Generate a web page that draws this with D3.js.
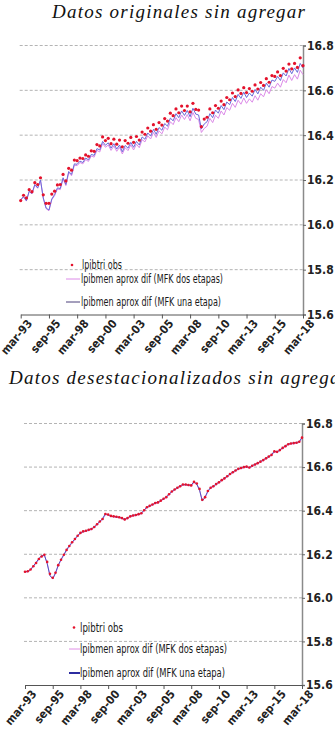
<!DOCTYPE html>
<html>
<head>
<meta charset="utf-8">
<script src="https://cdn.jsdelivr.net/npm/d3@7"></script>
<style>
  body { margin: 0; background: #fff; }
  svg { display: block; }
  .title { font-family: "Liberation Serif", serif; font-style: italic; font-size: 19px; fill: #111; }
  .tick-lbl { font-family: "Liberation Sans Narrow", "DejaVu Sans Condensed", sans-serif; font-weight: bold; font-size: 11.5px; fill: #222; }
  .legend text { font-family: "Liberation Sans Narrow", "DejaVu Sans Condensed", sans-serif; font-size: 12px; fill: #1a1a1a; }
</style>
</head>
<body>
<svg id="chart" width="335" height="739"></svg>
<script>
// ---- data (quarterly, mar-93 .. mar-18) ----
const xTickLabels = ['mar-93','sep-95','mar-98','sep-00','mar-03','sep-05','mar-08','sep-10','mar-13','sep-15','mar-18'];
const yTicks = [15.6, 15.8, 16.0, 16.2, 16.4, 16.6, 16.8];
const titles = ['Datos originales sin agregar', 'Datos desestacionalizados sin agregar'];
const legendLabels = ['lpibtri obs', 'lpibmen aprox dif (MFK dos etapas)', 'lpibmen aprox dif (MFK una etapa)'];

// original data
const obsOrig = [
  16.108,16.132,16.120,16.157, 16.148,16.188,16.180,16.210, 16.134,16.096,16.096,16.137,
  16.150,16.178,16.180,16.225, 16.196,16.252,16.244,16.289, 16.286,16.298,16.296,16.312,
  16.306,16.330,16.328,16.358, 16.352,16.392,16.376,16.386, 16.362,16.382,16.360,16.378,
  16.348,16.376,16.364,16.390, 16.368,16.394,16.378,16.414, 16.404,16.432,16.418,16.447,
  16.426,16.456,16.445,16.474, 16.463,16.498,16.487,16.517, 16.500,16.530,16.510,16.530,
  16.504,16.542,16.515,16.512, 16.438,16.472,16.480,16.517, 16.500,16.532,16.520,16.552,
  16.536,16.568,16.558,16.588, 16.572,16.602,16.586,16.612, 16.590,16.608,16.596,16.624,
  16.606,16.635,16.622,16.652, 16.636,16.666,16.662,16.682, 16.666,16.698,16.686,16.717,
  16.696,16.720,16.702,16.745, 16.710
];
const dosOrig = [
  16.110,16.124,16.106,16.148, 16.138,16.178,16.163,16.198, 16.118,16.072,16.063,16.112,
  16.130,16.160,16.157,16.205, 16.175,16.232,16.219,16.266, 16.264,16.278,16.272,16.291,
  16.283,16.307,16.302,16.332, 16.325,16.363,16.346,16.356, 16.332,16.352,16.328,16.346,
  16.316,16.344,16.331,16.357, 16.334,16.360,16.344,16.380, 16.370,16.397,16.383,16.412,
  16.390,16.419,16.406,16.436, 16.424,16.460,16.447,16.478, 16.460,16.490,16.470,16.492,
  16.464,16.501,16.475,16.470, 16.412,16.430,16.440,16.475, 16.456,16.489,16.475,16.508,
  16.490,16.523,16.511,16.542, 16.524,16.556,16.538,16.566, 16.542,16.562,16.547,16.576,
  16.556,16.585,16.571,16.603, 16.585,16.617,16.610,16.632, 16.614,16.648,16.634,16.668,
  16.644,16.670,16.650,16.690, 16.670
];
const unaOrig = [
  16.112,16.126,16.108,16.150, 16.140,16.180,16.165,16.200, 16.120,16.075,16.066,16.115,
  16.135,16.165,16.162,16.210, 16.180,16.238,16.225,16.272, 16.270,16.284,16.278,16.298,
  16.290,16.314,16.310,16.340, 16.334,16.372,16.355,16.366, 16.342,16.362,16.338,16.356,
  16.326,16.354,16.342,16.368, 16.346,16.372,16.356,16.392, 16.382,16.410,16.396,16.426,
  16.404,16.434,16.422,16.452, 16.440,16.476,16.464,16.496, 16.478,16.508,16.488,16.510,
  16.482,16.520,16.494,16.490, 16.428,16.450,16.460,16.496, 16.478,16.512,16.498,16.532,
  16.514,16.548,16.536,16.568, 16.550,16.582,16.564,16.592, 16.568,16.588,16.574,16.604,
  16.584,16.614,16.600,16.632, 16.614,16.646,16.640,16.662, 16.644,16.678,16.664,16.698,
  16.674,16.700,16.680,16.720, 16.700
];

// seasonally adjusted data
const obsSA = [
  16.120,16.122,16.130,16.145, 16.160,16.178,16.190,16.198, 16.165,16.110,16.092,16.115,
  16.150,16.175,16.198,16.220, 16.238,16.255,16.270,16.285, 16.298,16.305,16.308,16.312,
  16.316,16.325,16.338,16.350, 16.362,16.385,16.382,16.376, 16.374,16.372,16.370,16.366,
  16.360,16.366,16.374,16.378, 16.380,16.384,16.388,16.402, 16.416,16.422,16.428,16.435,
  16.438,16.446,16.455,16.462, 16.475,16.488,16.497,16.505, 16.512,16.520,16.520,16.518,
  16.516,16.532,16.525,16.500, 16.450,16.462,16.490,16.505, 16.512,16.522,16.530,16.540,
  16.548,16.558,16.568,16.576, 16.584,16.592,16.596,16.600, 16.602,16.598,16.606,16.612,
  16.618,16.625,16.632,16.640, 16.648,16.656,16.672,16.670, 16.678,16.688,16.696,16.705,
  16.708,16.710,16.712,16.716, 16.735
];
const dosSA = [
  16.118,16.119,16.128,16.143, 16.158,16.176,16.189,16.194, 16.160,16.104,16.086,16.112,
  16.147,16.172,16.195,16.217, 16.235,16.252,16.267,16.282, 16.295,16.302,16.305,16.309,
  16.313,16.322,16.335,16.347, 16.359,16.382,16.379,16.373, 16.371,16.369,16.367,16.363,
  16.357,16.363,16.371,16.375, 16.377,16.381,16.385,16.399, 16.413,16.419,16.425,16.432,
  16.435,16.443,16.452,16.459, 16.472,16.485,16.494,16.502, 16.509,16.517,16.517,16.515,
  16.513,16.529,16.521,16.496, 16.446,16.459,16.487,16.502, 16.509,16.519,16.527,16.537,
  16.545,16.555,16.565,16.573, 16.581,16.589,16.593,16.597, 16.599,16.595,16.603,16.609,
  16.615,16.622,16.629,16.637, 16.645,16.653,16.668,16.667, 16.675,16.685,16.693,16.702,
  16.705,16.707,16.709,16.713, 16.732
];
const unaSA = [
  16.120,16.121,16.130,16.146, 16.162,16.180,16.194,16.196, 16.158,16.102,16.088,16.114,
  16.150,16.176,16.198,16.221, 16.239,16.255,16.270,16.286, 16.298,16.304,16.308,16.313,
  16.317,16.325,16.338,16.351, 16.363,16.386,16.381,16.376, 16.373,16.372,16.369,16.365,
  16.360,16.367,16.374,16.379, 16.381,16.384,16.389,16.403, 16.416,16.423,16.428,16.436,
  16.439,16.446,16.455,16.463, 16.476,16.488,16.497,16.506, 16.513,16.520,16.519,16.518,
  16.517,16.533,16.522,16.494, 16.444,16.462,16.490,16.506, 16.513,16.522,16.531,16.541,
  16.549,16.558,16.569,16.577, 16.585,16.592,16.597,16.601, 16.602,16.598,16.607,16.613,
  16.619,16.626,16.633,16.641, 16.649,16.657,16.673,16.670, 16.679,16.689,16.697,16.706,
  16.709,16.711,16.713,16.717, 16.736
];

// ---- helpers ----
const parseTick = d3.timeParse('%b-%y');
const startDate = parseTick('mar-93');
const quarterDate = i => d3.timeMonth.offset(startDate, 3 * i);

const svg = d3.select('#chart');

// draw one panel: title, grid, axes, series, legend
function drawPanel(cfg) {
  const g = svg.append('g');

  const x = d3.scaleTime()
    .domain([parseTick(xTickLabels[0]), parseTick(xTickLabels[xTickLabels.length - 1])])
    .range([cfg.x0, cfg.x1]);
  const y = d3.scaleLinear()
    .domain([15.6, 16.8])
    .range([cfg.yBottom, cfg.yTop]);

  // dashed gridlines
  g.selectAll('.grid')
    .data(yTicks.slice(1))
    .join('line')
    .attr('x1', cfg.x0 - 1).attr('x2', cfg.x1)
    .attr('y1', d => y(d)).attr('y2', d => y(d))
    .attr('stroke', '#b4b4b4')
    .attr('stroke-dasharray', '3,2')
    .attr('stroke-width', 1);

  // right y axis
  const yAxis = d3.axisRight(y)
    .tickValues(yTicks)
    .tickFormat(d3.format('.1f'))
    .tickSize(3)
    .tickPadding(1);
  const ya = g.append('g')
    .attr('transform', `translate(${cfg.x1},0)`)
    .call(yAxis);
  ya.select('.domain').attr('stroke', '#8a8a8a').attr('stroke-width', 1.5);
  ya.selectAll('.tick line').attr('stroke', '#666');
  ya.selectAll('.tick text').attr('class', 'tick-lbl').style('font-size', '12px').attr('fill', null);

  // bottom x axis
  const xAxis = d3.axisBottom(x)
    .tickValues(xTickLabels.map(parseTick))
    .tickFormat((d, i) => xTickLabels[i])
    .tickSize(4)
    .tickSizeOuter(0);
  const xa = g.append('g')
    .attr('transform', `translate(0,${cfg.yBottom})`)
    .call(xAxis);
  xa.select('.domain').attr('stroke', '#555').attr('stroke-width', 1);
  xa.selectAll('.tick line').attr('stroke', '#555');
  xa.selectAll('.tick text')
    .attr('class', 'tick-lbl')
    .attr('fill', null)
    .attr('text-anchor', 'end')
    .attr('dy', null)
    .attr('y', 0)
    .attr('transform', 'translate(9,7) rotate(-50)')
    .attr('dominant-baseline', 'middle');

  // lines
  const line = d3.line()
    .x((d, i) => x(quarterDate(i)))
    .y(d => y(d));

  g.append('path')
    .datum(cfg.dos)
    .attr('d', line)
    .attr('fill', 'none')
    .attr('stroke', cfg.dosColor)
    .attr('stroke-width', 1);
  g.append('path')
    .datum(cfg.una)
    .attr('d', line)
    .attr('fill', 'none')
    .attr('stroke', cfg.unaColor)
    .attr('stroke-width', cfg.unaWidth);

  // observed points
  g.selectAll('.obs')
    .data(cfg.obs)
    .join('circle')
    .attr('cx', (d, i) => x(quarterDate(i)))
    .attr('cy', d => y(d))
    .attr('r', cfg.dotR)
    .attr('fill', '#e4122c');

  // title
  g.append('text')
    .attr('class', 'title')
    .attr('x', cfg.titleX)
    .attr('y', cfg.titleY)
    .attr('letter-spacing', cfg.titleSpacing)
    .text(cfg.title);

  // legend
  const lg = g.append('g').attr('class', 'legend');
  const L = cfg.legend;
  lg.append('circle')
    .attr('cx', L.dotX).attr('cy', L.rows[0])
    .attr('r', 1.3).attr('fill', '#e4122c');
  lg.append('line')
    .attr('x1', L.lineX0).attr('x2', L.lineX1)
    .attr('y1', L.rows[1]).attr('y2', L.rows[1])
    .attr('stroke', cfg.dosColor).attr('stroke-width', 1);
  lg.append('line')
    .attr('x1', L.lineX0).attr('x2', L.lineX1)
    .attr('y1', L.rows[2]).attr('y2', L.rows[2])
    .attr('stroke', cfg.legendUnaColor).attr('stroke-width', cfg.legendUnaWidth);
  lg.selectAll('text')
    .data(legendLabels)
    .join('text')
    .attr('x', (d, i) => i === 0 ? L.textX0 : L.textX)
    .attr('y', (d, i) => L.rows[i])
    .attr('dy', '0.35em')
    .attr('textLength', (d, i) => L.widths[i])
    .attr('lengthAdjust', 'spacingAndGlyphs')
    .text(d => d);
}

// letter spacing so the first title spans its width in the reference
const probe = svg.append('text').attr('class', 'title').text(titles[0]);
const natural = probe.node().getComputedTextLength();
probe.remove();
const spacing = (253 - natural) / (titles[0].length - 1);

drawPanel({
  title: titles[0], titleX: 52, titleY: 18, titleSpacing: spacing,
  x0: 20.7, x1: 303, yTop: 45.5, yBottom: 314.5,
  obs: obsOrig, dos: dosOrig, una: unaOrig,
  dosColor: '#dc8ae8', unaColor: '#6a6ad8', unaWidth: 1,
  legendUnaColor: '#4a3f7a', legendUnaWidth: 1,
  dotR: 1.6,
  legend: { dotX: 72, textX0: 82, textX: 81, lineX0: 66, lineX1: 80,
            rows: [265, 279, 302], widths: [40, 142, 140] }
});

drawPanel({
  title: titles[1], titleX: 9, titleY: 384, titleSpacing: spacing,
  x0: 25, x1: 302, yTop: 423.5, yBottom: 685,
  obs: obsSA, dos: dosSA, una: unaSA,
  dosColor: '#e090e6', unaColor: '#5050c0', unaWidth: 1,
  legendUnaColor: '#2c2ca0', legendUnaWidth: 2,
  dotR: 1.3,
  legend: { dotX: 74, textX0: 80, textX: 80, lineX0: 69, lineX1: 80,
            rows: [627.5, 649, 673], widths: [43, 147, 145] }
});
</script>
</body>
</html>
